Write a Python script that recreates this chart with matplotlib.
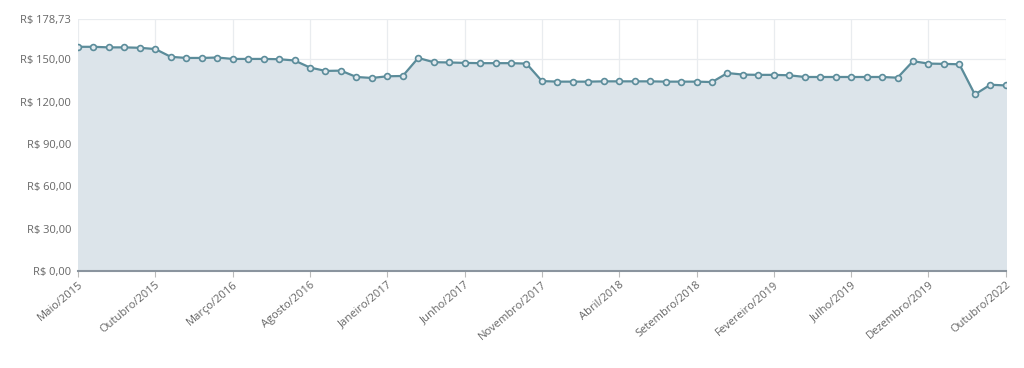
import matplotlib
matplotlib.use("Agg")
import matplotlib.pyplot as plt
from matplotlib.ticker import FuncFormatter

# monthly prices (R$)
months = [
    "Maio/2015", "Junho/2015", "Julho/2015", "Agosto/2015", "Setembro/2015",
    "Outubro/2015", "Novembro/2015", "Dezembro/2015", "Janeiro/2016", "Fevereiro/2016",
    "Março/2016", "Abril/2016", "Maio/2016", "Junho/2016", "Julho/2016",
    "Agosto/2016", "Setembro/2016", "Outubro/2016", "Novembro/2016", "Dezembro/2016",
    "Janeiro/2017", "Fevereiro/2017", "Março/2017", "Abril/2017", "Maio/2017",
    "Junho/2017", "Julho/2017", "Agosto/2017", "Setembro/2017", "Outubro/2017",
    "Novembro/2017", "Dezembro/2017", "Janeiro/2018", "Fevereiro/2018", "Março/2018",
    "Abril/2018", "Maio/2018", "Junho/2018", "Julho/2018", "Agosto/2018",
    "Setembro/2018", "Outubro/2018", "Novembro/2018", "Dezembro/2018", "Janeiro/2019",
    "Fevereiro/2019", "Março/2019", "Abril/2019", "Maio/2019", "Junho/2019",
    "Julho/2019", "Agosto/2019", "Setembro/2019", "Outubro/2019", "Novembro/2019",
    "Dezembro/2019", "Janeiro/2020", "Fevereiro/2020", "Agosto/2022", "Setembro/2022",
    "Outubro/2022",
]
prices = [
    159.0, 159.0, 158.6, 158.6, 158.3, 157.4, 151.9, 151.1, 151.1, 151.4,
    150.4, 150.4, 150.4, 150.2, 149.3, 144.3, 141.9, 142.1, 137.6, 136.9,
    138.1, 138.3, 151.1, 148.1, 147.9, 147.6, 147.4, 147.4, 147.4, 147.1,
    134.7, 134.3, 134.3, 134.3, 134.5, 134.5, 134.5, 134.5, 134.3, 134.3,
    134.3, 134.0, 140.4, 139.3, 139.1, 139.1, 138.8, 137.6, 137.6, 137.6,
    137.6, 137.6, 137.6, 137.1, 148.8, 147.1, 146.9, 146.6, 125.2, 132.1,
    131.6,
]
y_ticks = [0, 30, 60, 90, 120, 150, 178.73]

line_color = "#5b8c9a"
fill_color = "#dce4ea"
grid_color = "#e9ecef"
text_color = "#666666"

plt.rcParams["font.family"] = ["Open Sans", "DejaVu Sans"]

fig = plt.figure(figsize=(10.24, 3.68), dpi=100)
ax = fig.add_axes([0.0762, 0.2636, 0.906, 0.6848])

x = list(range(len(prices)))
ax.fill_between(x, prices, 0, color=fill_color, zorder=1)
ax.plot(x, prices, color=line_color, lw=1.6, marker="o", ms=4.2,
        mfc="#e3eaef", mec=line_color, mew=1.2, zorder=3)

ax.set_xlim(0, len(prices) - 1)
ax.set_ylim(0, max(y_ticks))

# show every 5th month plus the last one
tick_pos = list(range(0, len(months) - 1, 5)) + [len(months) - 1]
ax.set_xticks(tick_pos)
ax.set_xticklabels([months[i] for i in tick_pos], rotation=40, ha="right",
                   rotation_mode="anchor", fontsize=8, color=text_color)

ax.set_yticks(y_ticks)
ax.yaxis.set_major_formatter(FuncFormatter(lambda v, p: "R$ " + f"{v:.2f}".replace(".", ",")))
ax.tick_params(axis="y", length=0, pad=5, labelsize=8, labelcolor=text_color)
ax.tick_params(axis="x", length=4, color="#bbbbbb", pad=2)

ax.grid(True, color=grid_color, lw=0.9, zorder=0)
ax.set_axisbelow(True)
for s in ["top", "right", "left"]:
    ax.spines[s].set_visible(False)
ax.spines["bottom"].set_color("#8a949e")
ax.spines["bottom"].set_linewidth(1.5)
ax.spines["bottom"].set_zorder(4)

fig.savefig("out.png", dpi=100)
